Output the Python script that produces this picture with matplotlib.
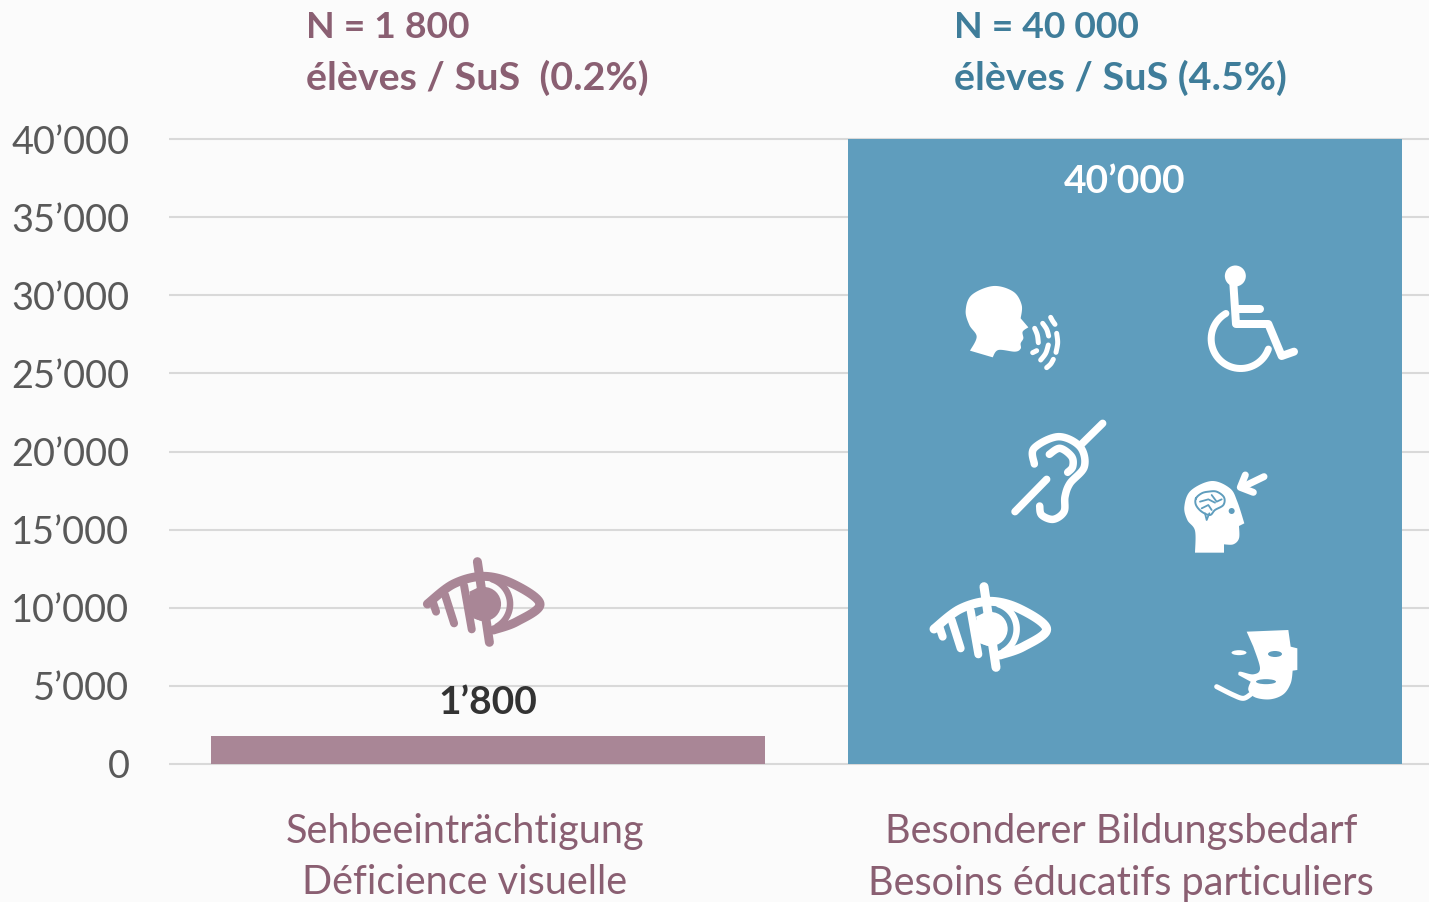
import numpy as np
import matplotlib
matplotlib.use('Agg')
import matplotlib.pyplot as plt
from matplotlib.patches import Circle, Ellipse
from matplotlib.ticker import FuncFormatter

plt.rcParams['font.family'] = ['Lato', 'DejaVu Sans']

# data
categories = ['Sehbeeinträchtigung\nDéficience visuelle',
              'Besonderer Bildungsbedarf\nBesoins éducatifs particuliers']
values = [1800, 40000]
value_labels = ['1’800', '40’000']
headers = ['N = 1 800\nélèves / SuS  (0.2%)', 'N = 40 000\nélèves / SuS (4.5%)']
y_ticks = [0, 5000, 10000, 15000, 20000, 25000, 30000, 35000, 40000]

W, H = 1429, 902
BG = '#FBFBFB'
PINK = '#A98696'
PINK_DARK = '#8A5F72'
BLUE = '#5F9DBD'
BLUE_DARK = '#3F7D9A'
GREY = '#595959'

fig = plt.figure(figsize=(W / 100, H / 100), dpi=100, facecolor=BG)

# plot area: pixels 169..1429 across, 139..764 down
ax = fig.add_axes([169 / W, 1 - 764 / H, (W - 169) / W, (764 - 139) / H], facecolor=BG)
ax.bar([0, 1], values, width=0.87, color=[PINK, BLUE], zorder=3)
ax.set_xlim(-0.5008, 1.477)
ax.set_ylim(0, 40000)
ax.set_yticks(y_ticks)
ax.yaxis.set_major_formatter(FuncFormatter(lambda v, p: f'{int(v):,}'.replace(',', '’')))
ax.tick_params(axis='y', length=0, pad=28.5, labelsize=27.3, labelcolor=GREY)
ax.set_xticks([])
for s in ax.spines.values():
    s.set_visible(False)
for v in y_ticks:
    ax.axhline(v, color='#D9D9D9', linewidth=1.5, zorder=1, clip_on=False, solid_capstyle='butt')

ax.text(0, 3950, value_labels[0], ha='center', va='center', fontsize=28, fontweight='bold',
        color='#333333', zorder=5)
ax.text(1, 37300, value_labels[1], ha='center', va='center', fontsize=28, fontweight='bold',
        color='white', zorder=5)

# overlay in pixel coordinates for the header text and the icons
ov = fig.add_axes([0, 0, 1, 1], facecolor='none')
ov.set_xlim(0, W)
ov.set_ylim(H, 0)
ov.axis('off')

for x, txt, col in zip([306, 954], headers, [PINK_DARK, BLUE_DARK]):
    a, b = txt.split('\n')
    ov.text(x, 27, a, ha='left', va='center', fontsize=26.8, fontweight='bold', color=col)
    ov.text(x, 78, b, ha='left', va='center', fontsize=28.4, fontweight='bold', color=col)
for x, txt in zip([465, 1121], categories):
    for k, line in enumerate(txt.split('\n')):
        ov.text(x, 832 + 51 * k, line, ha='center', va='center', fontsize=28.5, color=PINK_DARK)


def smooth(pts, closed=False, n=12):
    # catmull-rom through the given points
    p = np.array(pts, dtype=float)
    if closed:
        p = np.vstack([p[-1], p, p[0], p[1]])
    else:
        p = np.vstack([p[0], p, p[-1]])
    out = []
    for i in range(1, len(p) - 2):
        for t in np.linspace(0, 1, n, endpoint=False):
            out.append(0.5 * (2 * p[i] + (p[i + 1] - p[i - 1]) * t
                              + (2 * p[i - 1] - 5 * p[i] + 4 * p[i + 1] - p[i + 2]) * t ** 2
                              + (3 * p[i] - p[i - 1] - 3 * p[i + 1] + p[i + 2]) * t ** 3))
    out.append(p[-2])
    return np.array(out)


def zm(pts, ox, oy):
    # zoomed crop coordinates (3x) to figure pixels
    return [(ox + a / 3, oy + b / 3) for a, b in pts]


def stroke(pts, color, w, curved=False, z=6):
    a = smooth(pts) if curved else np.array(pts)
    ov.plot(a[:, 0], a[:, 1], color=color, lw=w * 0.72, solid_capstyle='round',
            solid_joinstyle='round', zorder=z)


def blob(parts, color, z=6):
    # parts: curved runs of points, joined by straight edges
    a = np.vstack([smooth(p) for p in parts])
    ov.fill(a[:, 0], a[:, 1], color=color, lw=0, zorder=z)


def eye(dx, dy, color):
    f = lambda pts: [(a + dx, b + dy) for a, b in zm(pts, 900, 460)]
    stroke(f([(102, 507), (180, 447), (270, 424), (360, 447), (440, 507), (370, 560), (300, 585)]), color, 9, True)
    c = f([(272, 507)])[0]
    ov.add_patch(Circle(c, 17, color=color, lw=0, zorder=6))
    th = np.linspace(-1.25, 1.05, 30)
    stroke(list(zip(c[0] + 26 * np.cos(th), c[1] + 26 * np.sin(th))), color, 6.5)
    stroke(f([(118, 500), (128, 530)]), color, 8)
    stroke(f([(155, 480), (182, 565)]), color, 8)
    stroke(f([(212, 452), (235, 583)]), color, 8)
    stroke(f([(252, 380), (288, 622)]), color, 9)
    ov.fill(*zip(*f([(228, 470), (270, 450), (270, 560), (240, 550)])), color=color, lw=0, zorder=6)


eye(0, 0, 'white')
eye(-506.6, -25, PINK)

# speaking head
blob([zm([(210, 332), (230, 290), (208, 255), (197, 212), (215, 165), (280, 138), (340, 155), (365, 195),
          (362, 235)], 900, 240),
      zm([(385, 262), (368, 275), (370, 295), (362, 310), (362, 326), (345, 335), (295, 330), (278, 352)],
         900, 240)], 'white')
for seg in [[(404, 265), (412, 285), (415, 308)], [(428, 250), (440, 268), (446, 288)],
            [(452, 232), (458, 243), (465, 253)], [(470, 280), (473, 308), (468, 337)],
            [(445, 315), (437, 340), (422, 360)], [(460, 358), (452, 372), (440, 383)],
            [(398, 338), (410, 332)]]:
    stroke(zm(seg, 900, 240), 'white', 5, True)

# wheelchair
o = zm([(1006, 108)], 900, 240)[0]
ov.add_patch(Circle(o, 10.5, color='white', lw=0, zorder=6))
stroke(zm([(1000, 130), (1008, 252), (1105, 252), (1145, 348), (1182, 335)], 900, 240), 'white', 8)
stroke(zm([(1012, 208), (1080, 208)], 900, 240), 'white', 8)
c = zm([(1022, 297)], 900, 240)[0]
th = np.radians(np.linspace(20, 240, 50))
stroke(list(zip(c[0] + 29.5 * np.cos(th), c[1] + 29.5 * np.sin(th))), 'white', 7)

# ear
stroke(zm([(403, 672), (402, 625), (475, 590), (540, 620), (553, 680), (510, 730), (495, 770), (492, 815),
           (460, 838), (425, 825), (419, 798)], 900, 240), 'white', 7.5, True)
stroke(zm([(448, 643), (480, 625), (515, 650), (518, 680), (503, 697)], 900, 240), 'white', 7.5, True)
stroke(zm([(545, 612), (608, 550)], 900, 240), 'white', 7.5)
stroke(zm([(345, 815), (440, 718)], 900, 240), 'white', 7.5)

# head with brain and arrow
blob([zm([(885, 278), (885, 212), (862, 180), (853, 140), (872, 92), (935, 63), (990, 85), (1012, 125),
          (1033, 190)], 900, 460),
      zm([(1017, 198), (1017, 235), (1000, 253), (972, 253)], 900, 460),
      zm([(972, 278)], 900, 460)], 'white')
brain = smooth(zm([(888, 115), (905, 100), (925, 95), (950, 95), (972, 112), (970, 135), (945, 150),
                   (930, 165), (905, 155), (888, 135)], 900, 460), closed=True)
ov.plot(brain[:, 0], brain[:, 1], color=BLUE, lw=1.4, zorder=7)
for seg in [[(900, 125), (925, 118), (945, 128)], [(935, 105), (950, 125), (965, 118)],
            [(905, 145), (925, 135), (935, 150)], [(915, 160), (920, 180), (928, 160)]]:
    stroke(zm(seg, 900, 460), BLUE, 1.8, z=7)
ov.add_patch(Circle(zm([(995, 153)], 900, 460)[0], 3, color=BLUE, lw=0, zorder=7))
stroke(zm([(1092, 50), (1030, 80)], 900, 460), 'white', 7)
stroke(zm([(1036, 45), (1021, 82), (1060, 97)], 900, 460), 'white', 7)

# theatre mask face
blob([zm([(1040, 515), (1165, 510), (1172, 560), (1192, 565), (1192, 630), (1178, 632)], 900, 460)[:1],
      zm([(1165, 510)], 900, 460), zm([(1172, 560)], 900, 460), zm([(1192, 565)], 900, 460),
      zm([(1192, 630)], 900, 460),
      zm([(1178, 632), (1172, 670), (1150, 703), (1110, 718), (1065, 712), (1045, 690), (1052, 665)], 900, 460),
      zm([(1015, 645), (1020, 635), (1060, 643), (1080, 625), (1060, 560)], 900, 460)], 'white')
for xy, w, h, col in [((1125, 582), 14, 6, BLUE), ((1098, 665), 20, 5, BLUE), ((1017, 578), 15, 5, 'white')]:
    ov.add_patch(Ellipse(zm([xy], 900, 460)[0], w, h, color=col, lw=0, zorder=7))
stroke(zm([(950, 680), (1000, 705), (1030, 715), (1052, 703)], 900, 460), 'white', 5, True)

fig.savefig('out.png', dpi=100, facecolor=BG)
